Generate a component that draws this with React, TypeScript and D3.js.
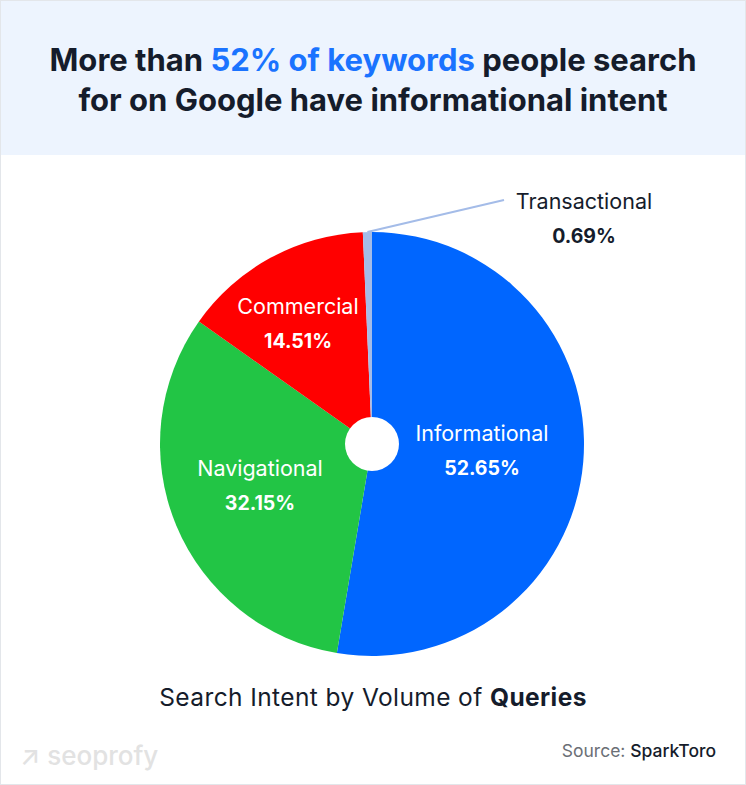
import React from "react";
import * as d3 from "d3";

const categories = ["Informational", "Navigational", "Commercial", "Transactional"];
const values = [52.65, 32.15, 14.51, 0.69];
const colors = ["#0066FF", "#22C545", "#FF0000", "#A4BCE8"];

const W = 746;
const H = 785;
const FONT = "Inter, 'Open Sans', sans-serif";

export default function App() {
  const cx = 372;
  const cy = 444;
  const r = 212;
  const pie = d3.pie<number>().sort(null).value((d) => d)(values);
  const arc = d3.arc<d3.PieArcDatum<number>>().innerRadius(0).outerRadius(r);
  const labelPos: Record<string, [number, number]> = {
    Informational: [482, 434],
    Navigational: [260, 469],
    Commercial: [298, 307],
  };
  const trans = pie[3];
  const tMid = (trans.startAngle + trans.endAngle) / 2;
  const lx0 = cx + Math.sin(tMid) * r;
  const ly0 = cy - Math.cos(tMid) * r;

  return (
    <svg width={W} height={H} style={{ position: "absolute", left: 0, top: 0 }} fontFamily={FONT}>
      <rect x={0.5} y={0.5} width={W - 1} height={H - 1} fill="#fff" stroke="#E3E6EA" />
      <rect x={1} y={1} width={W - 2} height={154} fill="#EDF4FE" />
      <text x={373} y={71} textAnchor="middle" fontSize={31} fontWeight={700} fill="#151C2B">
        More than <tspan fill="#1A73FF">52% of keywords</tspan> people search
      </text>
      <text x={373} y={111} textAnchor="middle" fontSize={31} fontWeight={700} fill="#151C2B">
        for on Google have informational intent
      </text>
      <g transform={`translate(${cx},${cy})`}>
        {pie.map((p, i) => (
          <path key={categories[i]} d={arc(p) || ""} fill={colors[i]} />
        ))}
        <circle r={27} fill="#fff" />
      </g>
      <line x1={lx0} y1={ly0} x2={504} y2={200} stroke="#A4BCE8" strokeWidth={2} />
      {categories.slice(0, 3).map((c, i) => (
        <g key={c}>
          <text x={labelPos[c][0]} y={labelPos[c][1] + 7} textAnchor="middle" fontSize={21.5} fill="#fff">
            {c}
          </text>
          <text x={labelPos[c][0]} y={labelPos[c][1] + 41} textAnchor="middle" fontSize={19.5} fontWeight={700} fill="#fff">
            {values[i].toFixed(2)}%
          </text>
        </g>
      ))}
      <text x={584} y={209} textAnchor="middle" fontSize={21.5} fill="#151C2B">Transactional</text>
      <text x={584} y={243} textAnchor="middle" fontSize={19.5} fontWeight={700} fill="#151C2B">{values[3].toFixed(2)}%</text>
      <text x={373} y={706} textAnchor="middle" fontSize={24.5} letterSpacing={0.4} fill="#151C2B">
        Search Intent by Volume of <tspan fontWeight={700}>Queries</tspan>
      </text>
      <text x={20} y={765} fontSize={26} fontWeight={500} fill="#E2E2E2">↗ seoprofy</text>
      <text x={716} y={757} textAnchor="end" fontSize={17.5} fill="#6B6F76">
        Source: <tspan fill="#151C2B" fontWeight={500}>SparkToro</tspan>
      </text>
    </svg>
  );
}
